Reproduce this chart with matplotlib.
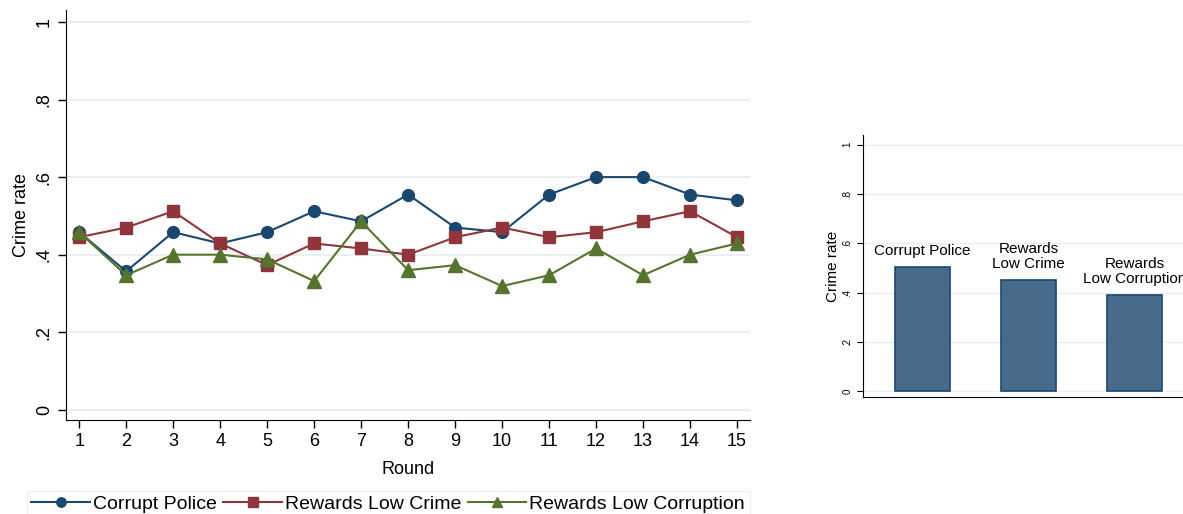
import numpy as np
import matplotlib.pyplot as plt

rounds = list(range(1, 16))
corrupt_police = [0.458, 0.357, 0.458, 0.429, 0.458, 0.512, 0.486, 0.555, 0.470, 0.458,
                  0.555, 0.600, 0.600, 0.555, 0.540]
rewards_low_crime = [0.445, 0.470, 0.512, 0.429, 0.373, 0.429, 0.416, 0.400, 0.445, 0.470,
                     0.445, 0.458, 0.486, 0.512, 0.445]
rewards_low_corruption = [0.458, 0.347, 0.400, 0.400, 0.388, 0.332, 0.486, 0.360, 0.373, 0.319,
                          0.347, 0.416, 0.347, 0.400, 0.429]

bar_labels = ["Corrupt Police", "Rewards\nLow Crime", "Rewards\nLow Corruption"]
bar_values = [0.504, 0.451, 0.390]

yticks = [0, 0.2, 0.4, 0.6, 0.8, 1]
ytick_labels = ["0", ".2", ".4", ".6", ".8", "1"]

blue = "#1a476f"
red = "#90353b"
green = "#55752f"
grid_c = "#e6eef0"

plt.rcParams['font.family'] = ['Liberation Sans', 'DejaVu Sans']

fig = plt.figure(figsize=(11.83, 5.14), dpi=100)

# left: crime rate by round
ax = fig.add_axes([0.0558, 0.183, 0.578, 0.797])
ax.plot(rounds, corrupt_police, color=blue, lw=1.5, marker='o', ms=8.5, label="Corrupt Police")
ax.plot(rounds, rewards_low_crime, color=red, lw=1.5, marker='s', ms=8.5, label="Rewards Low Crime")
ax.plot(rounds, rewards_low_corruption, color=green, lw=1.5, marker='^', ms=9.5, label="Rewards Low Corruption")
ax.set_xlim(0.72, 15.27)
ax.set_ylim(-0.026, 1.03)
ax.set_xticks(rounds)
ax.set_yticks(yticks)
ax.set_yticklabels(ytick_labels, rotation=90, va='center')
ax.tick_params(labelsize=13, length=6, width=1)
ax.set_xlabel("Round", fontsize=13, labelpad=8)
ax.set_ylabel("Crime rate", fontsize=13)
for s in ["top", "right"]:
    ax.spines[s].set_visible(False)
ax.yaxis.grid(True, color=grid_c, lw=1.2)
ax.set_axisbelow(True)

leg = fig.legend(loc="upper center", bbox_to_anchor=(0.328, 0.064), ncol=3, fontsize=14,
                 frameon=True, fancybox=False, edgecolor="#e8eef0", handlelength=3.0,
                 handletextpad=0.15, columnspacing=0.35, borderpad=0.25, markerscale=0.8)

# right: average crime rate
ax2 = fig.add_axes([0.7295, 0.2276, 0.28, 0.51])
xpos = np.arange(1, len(bar_values) + 1)
ax2.bar(xpos, bar_values, width=0.52, color="#486b8c", edgecolor=blue, lw=1.2)
for x, v, lab in zip(xpos, bar_values, bar_labels):
    ax2.text(x, v + 0.035, lab, ha='center', va='bottom', fontsize=11, linespacing=1.1)
ax2.set_xlim(0.44, 3.56)
ax2.set_ylim(-0.024, 1.04)
ax2.set_xticks([])
ax2.set_yticks(yticks)
ax2.set_yticklabels(ytick_labels, rotation=90, va='center')
ax2.tick_params(labelsize=7, length=4, width=0.8)
ax2.set_ylabel("Crime rate", fontsize=11, labelpad=2)
for s in ["top", "right"]:
    ax2.spines[s].set_visible(False)
ax2.yaxis.grid(True, color=grid_c, lw=1)
ax2.set_axisbelow(True)

fig.savefig("out.png", dpi=100)
